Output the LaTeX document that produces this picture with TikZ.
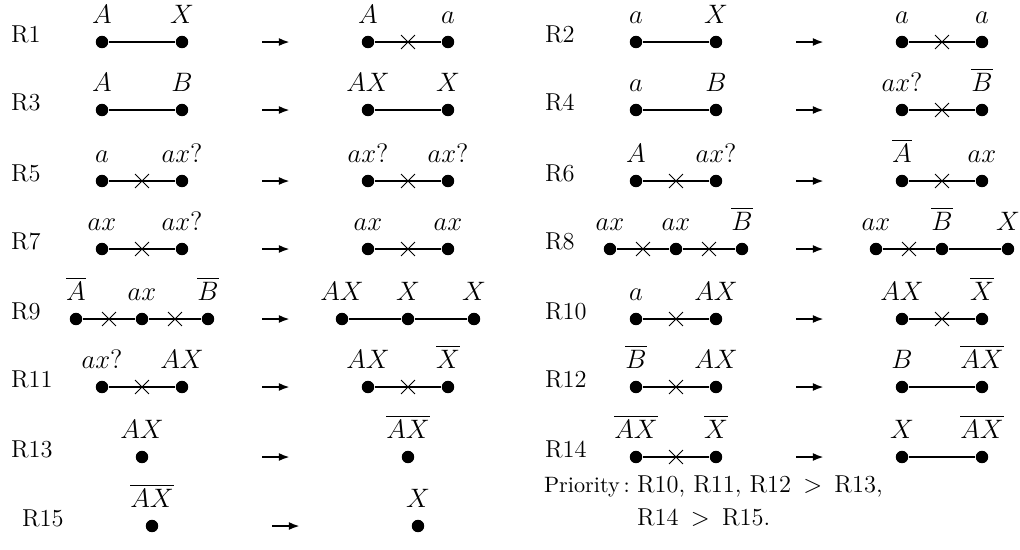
\documentclass[tikz,border=0pt]{standalone}
\usetikzlibrary{arrows.meta,shapes.misc}

\newcommand{\site}[4]{%
\node[dot] (#1) at (#2,#3) {};
\node[lab] (#1t) at (#2,#3+.475) {$#4$};
}

\begin{document}
\begin{tikzpicture}[x = 18pt,y = 18pt,line width = 1pt,
dot/.style = {circle,fill,inner sep = 0pt,minimum size = 5.6pt},
lab/.style = {anchor = base,inner sep = 0pt,font = \large},
rname/.style = {anchor = base west,inner sep = 0pt,font = \fontsize{11}{13}\selectfont},
cut/.style = {cross out,draw,line width = .45pt,inner sep = 0pt,minimum size = 5.8pt},
goes/.style = {-{Latex[length = 5pt,width = 3.6pt]}}]
\useasboundingbox (0,0) rectangle (25.5,-13.725);
\foreach \n/\x/\y in {1/.25/-1.05,3/.25/-2.75,5/.25/-4.525,7/.25/-6.225,9/.25/-7.975,11/.25/-9.675,13/.25/-11.425,15/.525/-13.15,
2/13.6/-1.05,4/13.6/-2.75,6/13.6/-4.525,8/13.6/-6.225,10/13.6/-7.975,12/13.6/-9.675,14/13.6/-11.425} {
\node[rname] (r\n) at (\x,\y) {R\n};
}
\foreach \x/\y [count = \i] in {6.55/-1.05,6.55/-2.75,6.55/-4.525,6.55/-6.225,6.55/-7.975,6.55/-9.675,6.55/-11.425,6.8/-13.15,
19.9/-1.05,19.9/-2.75,19.9/-4.525,19.9/-6.225,19.9/-7.975,19.9/-9.675,19.9/-11.425} {
\coordinate (s\i) at (\x,\y);
\coordinate (e\i) at (\x+.7,\y);
\draw[goes] (s\i) -- (e\i);
}
\site{a1}{2.55}{-1.05}{A}
\site{b1}{4.55}{-1.05}{X}
\draw (a1) -- (b1);
\site{c1}{9.2}{-1.05}{A}
\site{d1}{11.2}{-1.05}{a}
\draw (c1) -- node[cut] (x1) {} (d1);
\site{a3}{2.55}{-2.75}{A}
\site{b3}{4.55}{-2.75}{B}
\draw (a3) -- (b3);
\site{c3}{9.2}{-2.75}{AX}
\site{d3}{11.2}{-2.75}{X}
\draw (c3) -- (d3);
\site{a5}{2.55}{-4.525}{a}
\site{b5}{4.55}{-4.525}{ax?}
\draw (a5) -- node[cut] (w5) {} (b5);
\site{c5}{9.2}{-4.525}{ax?}
\site{d5}{11.2}{-4.525}{ax?}
\draw (c5) -- node[cut] (x5) {} (d5);
\site{a7}{2.55}{-6.225}{ax}
\site{b7}{4.55}{-6.225}{ax?}
\draw (a7) -- node[cut] (w7) {} (b7);
\site{c7}{9.2}{-6.225}{ax}
\site{d7}{11.2}{-6.225}{ax}
\draw (c7) -- node[cut] (x7) {} (d7);
\site{a9}{1.9}{-7.975}{\overline{A}}
\site{b9}{3.55}{-7.975}{ax}
\site{f9}{5.2}{-7.975}{\overline{B}}
\draw (a9) -- node[cut] (w9) {} (b9) -- node[cut] (v9) {} (f9);
\site{c9}{8.55}{-7.975}{AX}
\site{d9}{10.2}{-7.975}{X}
\site{g9}{11.85}{-7.975}{X}
\draw (c9) -- (d9) -- (g9);
\site{a11}{2.55}{-9.675}{ax?}
\site{b11}{4.55}{-9.675}{AX}
\draw (a11) -- node[cut] (w11) {} (b11);
\site{c11}{9.2}{-9.675}{AX}
\site{d11}{11.2}{-9.675}{\overline{X}}
\draw (c11) -- node[cut] (x11) {} (d11);
\site{a13}{3.55}{-11.425}{AX}
\site{c13}{10.2}{-11.425}{\overline{AX}}
\site{a15}{3.8}{-13.15}{\overline{AX}}
\site{c15}{10.45}{-13.15}{X}
\site{a2}{15.9}{-1.05}{a}
\site{b2}{17.9}{-1.05}{X}
\draw (a2) -- (b2);
\site{c2}{22.55}{-1.05}{a}
\site{d2}{24.55}{-1.05}{a}
\draw (c2) -- node[cut] (x2) {} (d2);
\site{a4}{15.9}{-2.75}{a}
\site{b4}{17.9}{-2.75}{B}
\draw (a4) -- (b4);
\site{c4}{22.55}{-2.75}{ax?}
\site{d4}{24.55}{-2.75}{\overline{B}}
\draw (c4) -- node[cut] (x4) {} (d4);
\site{a6}{15.9}{-4.525}{A}
\site{b6}{17.9}{-4.525}{ax?}
\draw (a6) -- node[cut] (w6) {} (b6);
\site{c6}{22.55}{-4.525}{\overline{A}}
\site{d6}{24.55}{-4.525}{ax}
\draw (c6) -- node[cut] (x6) {} (d6);
\site{a8}{15.25}{-6.225}{ax}
\site{b8}{16.9}{-6.225}{ax}
\site{f8}{18.55}{-6.225}{\overline{B}}
\draw (a8) -- node[cut] (w8) {} (b8) -- node[cut] (v8) {} (f8);
\site{c8}{21.9}{-6.225}{ax}
\site{d8}{23.55}{-6.225}{\overline{B}}
\site{g8}{25.2}{-6.225}{X}
\draw (c8) -- node[cut] (x8) {} (d8) -- (g8);
\site{a10}{15.9}{-7.975}{a}
\site{b10}{17.9}{-7.975}{AX}
\draw (a10) -- node[cut] (w10) {} (b10);
\site{c10}{22.55}{-7.975}{AX}
\site{d10}{24.55}{-7.975}{\overline{X}}
\draw (c10) -- node[cut] (x10) {} (d10);
\site{a12}{15.9}{-9.675}{\overline{B}}
\site{b12}{17.9}{-9.675}{AX}
\draw (a12) -- node[cut] (w12) {} (b12);
\site{c12}{22.55}{-9.675}{B}
\site{d12}{24.55}{-9.675}{\overline{AX}}
\draw (c12) -- (d12);
\site{a14}{15.9}{-11.425}{\overline{AX}}
\site{b14}{17.9}{-11.425}{\overline{X}}
\draw (a14) -- node[cut] (w14) {} (b14);
\site{c14}{22.55}{-11.425}{X}
\site{d14}{24.55}{-11.425}{\overline{AX}}
\draw (c14) -- (d14);
\node[rname,font = \normalsize] (prio) at (13.575,-12.3) {Priority\,:};
\node[rname] (order1) at (15.9,-12.3) {R10, R11, R12\enspace$>$\enspace R13,};
\node[rname] (order2) at (15.9,-13.125) {R14\enspace$>$\enspace R15.};
\end{tikzpicture}
\end{document}
